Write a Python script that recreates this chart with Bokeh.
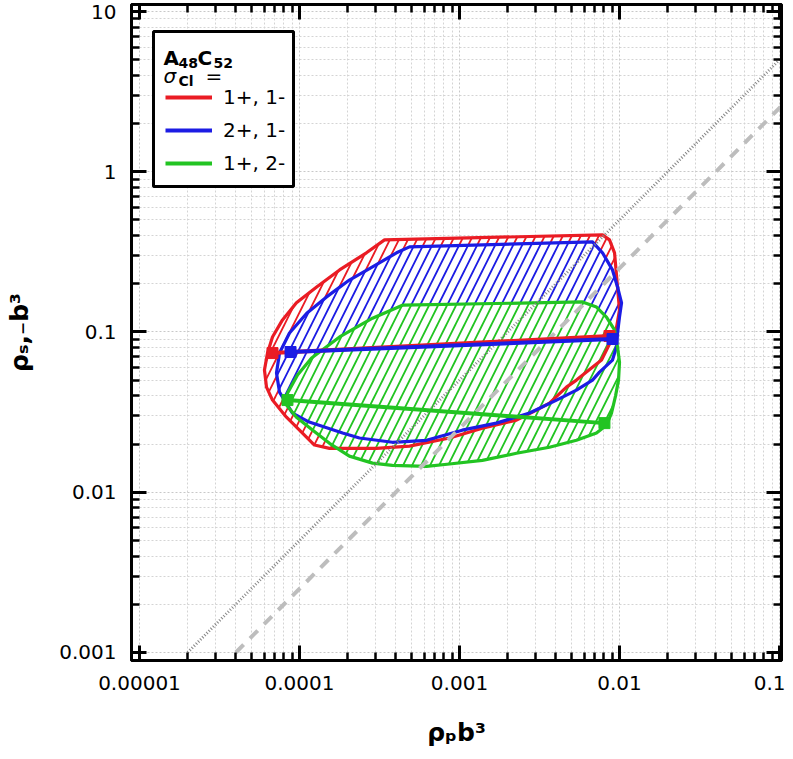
import math
from bokeh.plotting import figure
from bokeh.models import (LogAxis, FixedTicker, CustomJSTickFormatter, Label,
                          BoxAnnotation, Legend, LegendItem, Range1d)
from bokeh.embed import file_html
from bokeh.resources import INLINE

FONT = "DejaVu Sans"

# ---------------- data ----------------
red_x = [3.40e-4, 7.83e-3, 8.66e-3, 9.31e-3, 9.72e-3, 1.0e-2, 9.57e-3, 8.91e-3, 7.72e-3,
         5.38e-3, 4.66e-3, 3.65e-3, 2.86e-3, 2.27e-3, 1.39e-3, 8.66e-4, 4.87e-4, 3.03e-4,
         1.54e-4, 1.24e-4, 1.0e-4, 8.29e-5, 6.78e-5, 6.22e-5, 6.04e-5, 6.31e-5, 6.78e-5,
         7.83e-5, 9.57e-5, 1.28e-4, 1.78e-4, 2.62e-4]
red_y = [0.376, 0.404, 0.376, 0.312, 0.191, 0.137, 0.106, 0.0891, 0.0668,
         0.0501, 0.0453, 0.0360, 0.0316, 0.0282, 0.0251, 0.0218, 0.0194, 0.0188,
         0.0188, 0.0197, 0.0244, 0.0294, 0.0376, 0.0453, 0.0579, 0.0739, 0.0931,
         0.119, 0.152, 0.191, 0.244, 0.312]

blue_x = [4.87e-4, 6.78e-3, 7.83e-3, 9.04e-3, 9.72e-3, 1.03e-2, 1.0e-2, 9.72e-3, 9.57e-3,
          9.04e-3, 7.50e-3, 6.78e-3, 5.38e-3, 4.04e-3, 2.74e-3, 1.70e-3, 1.04e-3, 6.22e-4,
          3.81e-4, 2.37e-4, 1.86e-4, 1.15e-4, 9.04e-5, 7.50e-5, 7.18e-5, 7.50e-5, 8.66e-5,
          1.11e-4, 1.47e-4, 2.05e-4, 2.86e-4, 4.04e-4]
blue_y = [0.340, 0.365, 0.312, 0.244, 0.191, 0.152, 0.124, 0.0986, 0.0805,
          0.0668, 0.0562, 0.0501, 0.0434, 0.0376, 0.0312, 0.0270, 0.0244, 0.0211,
          0.0205, 0.0218, 0.0234, 0.0274, 0.0312, 0.0422, 0.0555, 0.0739, 0.0986,
          0.131, 0.165, 0.211, 0.255, 0.312]

green_x = [4.40e-4, 5.87e-3, 7.18e-3, 8.29e-3, 9.31e-3, 9.72e-3, 1.0e-2, 9.86e-3, 9.44e-3,
           8.91e-3, 8.29e-3, 7.18e-3, 5.38e-3, 3.65e-3, 2.27e-3, 1.39e-3, 8.66e-4, 6.22e-4,
           3.81e-4, 2.86e-4, 2.05e-4, 1.54e-4, 1.21e-4, 9.57e-5, 8.29e-5, 8.41e-5, 9.72e-5,
           1.19e-4, 1.78e-4, 2.86e-4]
green_y = [0.147, 0.154, 0.143, 0.124, 0.103, 0.0805, 0.0649, 0.0501, 0.0398,
           0.0312, 0.0262, 0.0234, 0.0211, 0.0191, 0.0175, 0.0158, 0.0150, 0.0145,
           0.0147, 0.0152, 0.0168, 0.0202, 0.0244, 0.0294, 0.0350, 0.0415, 0.0539,
           0.0688, 0.0931, 0.122]

red_line_x = [6.78e-5, 8.66e-3]
red_line_y = [0.0739, 0.0944]
blue_line_x = [8.79e-5, 9.04e-3]
blue_line_y = [0.0750, 0.0904]
green_line_x = [8.41e-5, 8.05e-3]
green_line_y = [0.0376, 0.0270]

dotted_ratio = 50.0     # y = 50 x
dashed_ratio = 25.0     # y = 25 x
dotted_x = [2e-5, 0.2]
dashed_x = [4e-5, 0.2]

x_tick_vals = [1e-5, 1e-4, 1e-3, 1e-2, 1e-1]
x_tick_labels = ["0.00001", "0.0001", "0.001", "0.01", "0.1"]
y_tick_vals = [1e-3, 1e-2, 1e-1, 1.0, 10.0]
y_tick_labels = ["0.001", "0.01", "0.1", "1", "10"]

x_title = "ρₚb³"
y_title = "ρₛ,₋b³"
series_labels = ["1+, 1-", "2+, 1-", "1+, 2-"]
RED, BLUE, GREEN = "#ea1c24", "#1c1ce4", "#22c422"
GRAY_DOT, GRAY_DASH = "#858585", "#bdbdbd"

# ---------------- figure ----------------
W, H = 785, 751
FRAME_TOP_EST = 5
p = figure(width=W, height=H, x_axis_type="log", y_axis_type="log",
           x_range=Range1d(10 ** -5.05, 10 ** -0.9875),
           y_range=Range1d(10 ** -3.05, 10 ** (-3 + (652 - FRAME_TOP_EST) / 160)),
           output_backend="svg", toolbar_location=None,
           min_border_left=131, min_border_right=4, min_border_top=0,
           min_border_bottom=91)
p.outline_line_color = "black"
p.outline_line_width = 3
p.background_fill_color = "white"


def minor_list(majors):
    out = []
    for m in majors:
        for k in range(2, 10):
            out.append(m * k)
    return out


x_ticker = FixedTicker(ticks=x_tick_vals, minor_ticks=minor_list(x_tick_vals[:-1]))
y_ticker = FixedTicker(ticks=y_tick_vals, minor_ticks=minor_list(y_tick_vals[:-1]))

fmt_code = """
const e = Math.round(Math.log10(tick));
const i = exps.indexOf(e);
return i >= 0 ? labels[i] : ' ';
"""
x_fmt = CustomJSTickFormatter(args=dict(exps=[round(math.log10(v)) for v in x_tick_vals],
                                        labels=x_tick_labels), code=fmt_code)
y_fmt = CustomJSTickFormatter(args=dict(exps=[round(math.log10(v)) for v in y_tick_vals],
                                        labels=y_tick_labels), code=fmt_code)
blank_fmt = CustomJSTickFormatter(code="return ' ';")


def style_axis(ax, ticker, fmt, show):
    ax.ticker = ticker
    ax.formatter = fmt
    ax.axis_line_width = 3
    ax.axis_line_color = "black"
    ax.major_tick_in = 15
    ax.major_tick_out = 0
    ax.major_tick_line_width = 3
    ax.minor_tick_in = 8
    ax.minor_tick_out = 0
    ax.minor_tick_line_width = 2.5
    ax.major_label_text_font = FONT
    ax.major_label_text_color = "black"
    if show:
        ax.major_label_text_font_size = "20px"
        ax.major_label_standoff = 15
        ax.axis_label_text_font = FONT
        ax.axis_label_text_font_size = "25px"
        ax.axis_label_text_font_style = "bold"
        ax.axis_label_text_color = "black"
    else:
        ax.major_label_text_font_size = "1px"
        ax.major_label_standoff = 0


style_axis(p.xaxis[0], x_ticker, x_fmt, True)
style_axis(p.yaxis[0], y_ticker, y_fmt, True)
p.xaxis[0].axis_label = x_title
p.yaxis[0].axis_label = y_title
p.xaxis[0].axis_label_standoff = 25
p.yaxis[0].axis_label_standoff = 22
top_ax = LogAxis()
right_ax = LogAxis()
style_axis(top_ax, x_ticker, blank_fmt, False)
style_axis(right_ax, y_ticker, blank_fmt, False)
p.add_layout(top_ax, "above")
p.add_layout(right_ax, "right")

for g, t in ((p.xgrid[0], x_ticker), (p.ygrid[0], y_ticker)):
    g.ticker = t
    g.grid_line_color = "#c8c8c8"
    g.grid_line_dash = "2 2"
    g.grid_line_width = 1
    g.minor_grid_line_color = "#d4d4d4"
    g.minor_grid_line_dash = "2 2"
    g.minor_grid_line_width = 1

# ---------------- hatched regions ----------------
regions = [(red_x, red_y, RED), (blue_x, blue_y, BLUE), (green_x, green_y, GREEN)]
for xs, ys, c in regions:
    p.patch(xs, ys, fill_color="white", line_alpha=0, hatch_pattern="/",
            hatch_color=c, hatch_weight=1.8, hatch_scale=18)
for xs, ys, c in regions:
    p.patch(xs, ys, fill_alpha=0, line_color=c, line_width=3.2, line_join="round")

# reference diagonals
p.line(dotted_x, [dotted_ratio * v for v in dotted_x], line_color=GRAY_DOT,
       line_width=3, line_dash="1 2")
p.line(dashed_x, [dashed_ratio * v for v in dashed_x], line_color=GRAY_DASH,
       line_width=4, line_dash="11 9")

# data lines
line_renderers = []
for xs, ys, c in ((red_line_x, red_line_y, RED), (blue_line_x, blue_line_y, BLUE),
                  (green_line_x, green_line_y, GREEN)):
    r = p.line(xs, ys, line_color=c, line_width=4)
    p.scatter(xs, ys, marker="square", size=11, fill_color=c, line_color=c)
    line_renderers.append(r)

# ---------------- legend ----------------
PX0, PY0 = 131, 660  # frame bottom-left in page pixels


def fx(px):
    return px - PX0


def fy(py):
    return PY0 - py


box = BoxAnnotation(left=fx(153), right=fx(293), top=fy(31), bottom=fy(186),
                    left_units="screen", right_units="screen", top_units="screen",
                    bottom_units="screen", fill_color="white", fill_alpha=1,
                    line_color="black", line_alpha=1, line_width=3)
p.add_layout(box)

legend = Legend(items=[LegendItem(label=l, renderers=[r]) for l, r in zip(series_labels, line_renderers)],
                location=(fx(165), fy(85) - 90), glyph_width=47, glyph_height=24,
                label_height=24, label_standoff=11, spacing=9, padding=0, margin=0,
                border_line_alpha=0, background_fill_alpha=0,
                label_text_font=FONT, label_text_font_size="20px", label_text_color="black")
p.add_layout(legend)


def make_label(txt, x, y, size, style="bold"):
    return Label(x=x, y=y, x_units="screen", y_units="screen", text=txt,
                 text_font=FONT, text_font_size=f"{size}px", text_font_style=style,
                 text_color="black", text_align="left", text_baseline="alphabetic")


# legend title  A48C52 / σCl =
for txt, px, py, size, style in (("A", 163, 57, 20, "bold"), ("48", 178, 62, 14, "bold"),
                                 ("C", 197, 57, 20, "bold"), ("52", 213, 62, 14, "bold"),
                                 ("σ", 163, 75, 20, "italic"), ("Cl", 178, 80, 14, "bold"),
                                 ("=", 205, 75, 20, "normal")):
    p.add_layout(make_label(txt, fx(px), fy(py), size, style))

open("out.html", "w").write(file_html(p, INLINE))
